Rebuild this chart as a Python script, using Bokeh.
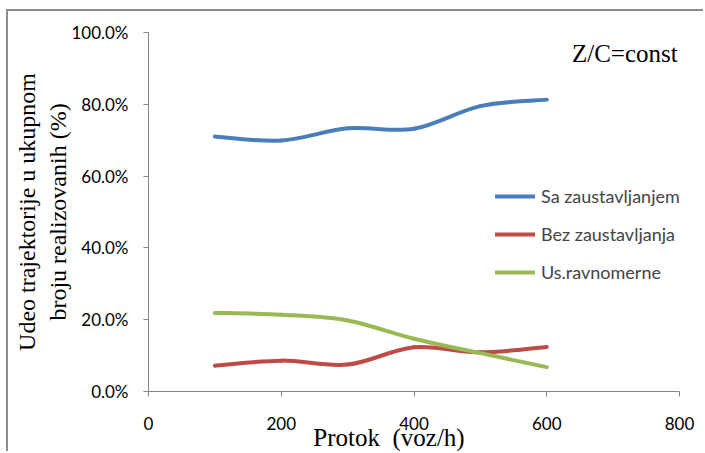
from bokeh.plotting import figure
from bokeh.models import (Range1d, FixedTicker, PrintfTickFormatter, Legend, LegendItem, Label,
                          ColumnDataSource)
from bokeh.embed import file_html
from bokeh.resources import INLINE

# ---- data ----
protok = [100, 200, 300, 400, 500, 600]
sa_zaustavljanjem = [71.0, 69.9, 73.3, 73.2, 79.5, 81.3]
bez_zaustavljanja = [7.2, 8.6, 7.5, 12.3, 10.9, 12.4]
us_ravnomerne = [21.9, 21.4, 19.8, 14.7, 10.7, 6.8]
series_names = ["Sa zaustavljanjem", "Bez zaustavljanja", "Us.ravnomerne"]
colors = ["#4A7EBB", "#BE4B48", "#98B954"]
x_ticks = [0, 200, 400, 600, 800]
y_ticks = [0, 20, 40, 60, 80, 100]


def smooth_segments(xs, ys, t=6.0):
    """Bezier segments (Catmull-Rom style) through the data points."""
    n = len(xs)
    out = dict(x0=[], y0=[], x1=[], y1=[], cx0=[], cy0=[], cx1=[], cy1=[])
    for i in range(n - 1):
        p0 = i - 1 if i > 0 else i
        p3 = i + 2 if i + 2 < n else i + 1
        out["x0"].append(xs[i]); out["y0"].append(ys[i])
        out["x1"].append(xs[i + 1]); out["y1"].append(ys[i + 1])
        out["cx0"].append(xs[i] + (xs[i + 1] - xs[p0]) / t)
        out["cy0"].append(ys[i] + (ys[i + 1] - ys[p0]) / t)
        out["cx1"].append(xs[i + 1] - (xs[p3] - xs[i]) / t)
        out["cy1"].append(ys[i + 1] - (ys[p3] - ys[i]) / t)
    return out


p = figure(width=697, height=442, output_backend="svg", toolbar_location=None,
           x_range=Range1d(0, 800), y_range=Range1d(0, 100),
           min_border_left=140, min_border_right=26, min_border_top=21, min_border_bottom=62,
           background_fill_color="white", border_fill_color="white",
           styles={"border-left": "2px solid #8c8c8c", "border-top": "2px solid #8c8c8c",
                   "margin-left": "6px", "margin-top": "9px"})
p.outline_line_color = None
p.grid.visible = False

font_sans = "Lato"
font_serif = "Liberation Serif"
axis_col = "#868686"

for ax in (p.xaxis[0], p.yaxis[0]):
    ax.axis_line_color = axis_col
    ax.major_tick_line_color = axis_col
    ax.minor_tick_line_color = None
    ax.major_tick_in = 0
    ax.major_tick_out = 5
    ax.major_label_text_font = font_sans
    ax.major_label_text_font_size = "17px"
    ax.major_label_text_color = "black"
    ax.axis_label_text_font = font_serif
    ax.axis_label_text_font_style = "normal"
    ax.axis_label_text_color = "black"

p.xaxis.ticker = FixedTicker(ticks=x_ticks)
p.yaxis.ticker = FixedTicker(ticks=y_ticks)
p.yaxis.formatter = PrintfTickFormatter(format="%.1f%%")
p.xaxis.major_label_standoff = 20
p.yaxis.major_label_standoff = 15
p.xaxis.axis_label = "Protok \u00a0(voz/h)" + "\u00a0" * 8
p.xaxis.axis_label_text_font_size = "25px"
p.xaxis.axis_label_standoff = -9
p.yaxis.axis_label = "Udeo trajektorije u ukupnom\nbroju realizovanih (%)"
p.yaxis.axis_label_text_font_size = "24px"
p.yaxis.axis_label_standoff = -3

items = []
for name, ys, c in zip(series_names, [sa_zaustavljanjem, bez_zaustavljanja, us_ravnomerne], colors):
    src = ColumnDataSource(smooth_segments(protok, ys))
    r = p.bezier(x0="x0", y0="y0", x1="x1", y1="y1", cx0="cx0", cy0="cy0", cx1="cx1", cy1="cy1",
                 source=src, line_color=c, line_width=4, line_cap="round")
    items.append(LegendItem(label=name, renderers=[r]))

legend = Legend(items=items, location=(347, 108), orientation="vertical",
                glyph_width=40, glyph_height=20, label_height=20, spacing=16,
                label_standoff=6, padding=0, margin=0,
                label_text_font=font_sans, label_text_font_size="18px",
                border_line_color=None, background_fill_alpha=0)
p.add_layout(legend, "center")

p.add_layout(Label(x=638, y=94.2, text="Z/C=const", text_font=font_serif,
                   text_font_size="25px", text_color="black", text_baseline="alphabetic"))

open("out.html", "w").write(file_html(p, INLINE))
